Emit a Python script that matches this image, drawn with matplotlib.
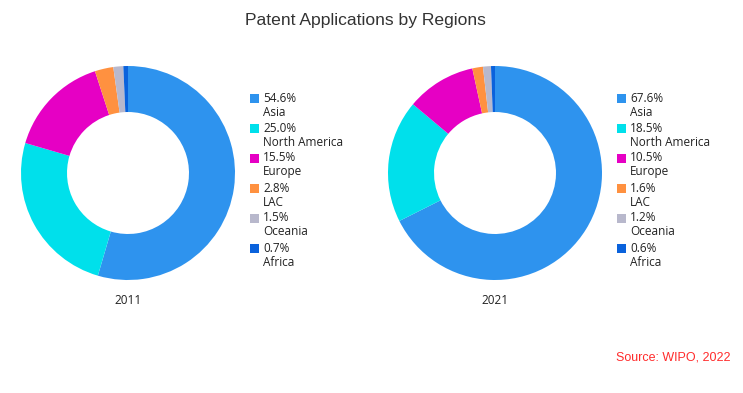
import matplotlib.pyplot as plt
from matplotlib.patches import Rectangle

regions = ["Asia", "North America", "Europe", "LAC", "Oceania", "Africa"]
share_2011 = [54.6, 25.0, 15.5, 2.8, 1.5, 0.7]
share_2021 = [67.6, 18.5, 10.5, 1.6, 1.2, 0.6]
years = ["2011", "2021"]
colors = ["#2e93ee", "#00e0eb", "#e600c4", "#ff9140", "#b8b8cc", "#0a62dc"]

W, H = 743, 393
fig = plt.figure(figsize=(W / 100, H / 100), dpi=100)

fig.text(365 / W, 1 - 20 / H, "Patent Applications by Regions", ha="center", va="center",
         fontsize=12.6, family="Liberation Sans", color="#333333")

centers = [128, 495]
r = 107
for cx, year, vals in zip(centers, years, [share_2011, share_2021]):
    ax = fig.add_axes([(cx - r) / W, 1 - (173 + r) / H, 2 * r / W, 2 * r / H])
    ax.pie(vals, colors=colors, startangle=90, counterclock=False,
           radius=1, wedgeprops=dict(width=0.43, linewidth=0))
    ax.set_xlim(-1, 1)
    ax.set_ylim(-1, 1)
    ax.set_aspect("equal")
    fig.text(cx / W, 1 - 300 / H, year, ha="center", va="center", fontsize=8.5,
             family="Open Sans", color="#222222")

    # legend: square next to the percentage, name on the line below
    for i, (v, name, c) in enumerate(zip(vals, regions, colors)):
        y = 98 + 30 * i
        fig.patches.append(Rectangle(((cx + 122) / W, 1 - (y + 4.5) / H), 8.5 / W, 8.5 / H,
                                     transform=fig.transFigure, facecolor=c, edgecolor="none"))
        fig.text((cx + 135) / W, 1 - y / H, f"{v:.1f}%", ha="left", va="center",
                 fontsize=8.5, family="Open Sans", color="#222222")
        fig.text((cx + 135) / W, 1 - (y + 14) / H, name, ha="left", va="center",
                 fontsize=8.5, family="Open Sans", color="#222222")

fig.text(730 / W, 1 - 357 / H, "Source: WIPO, 2022", ha="right", va="center",
         fontsize=9, family="Liberation Sans", color="#ff2b2b")

fig.savefig("out.png", dpi=100)
